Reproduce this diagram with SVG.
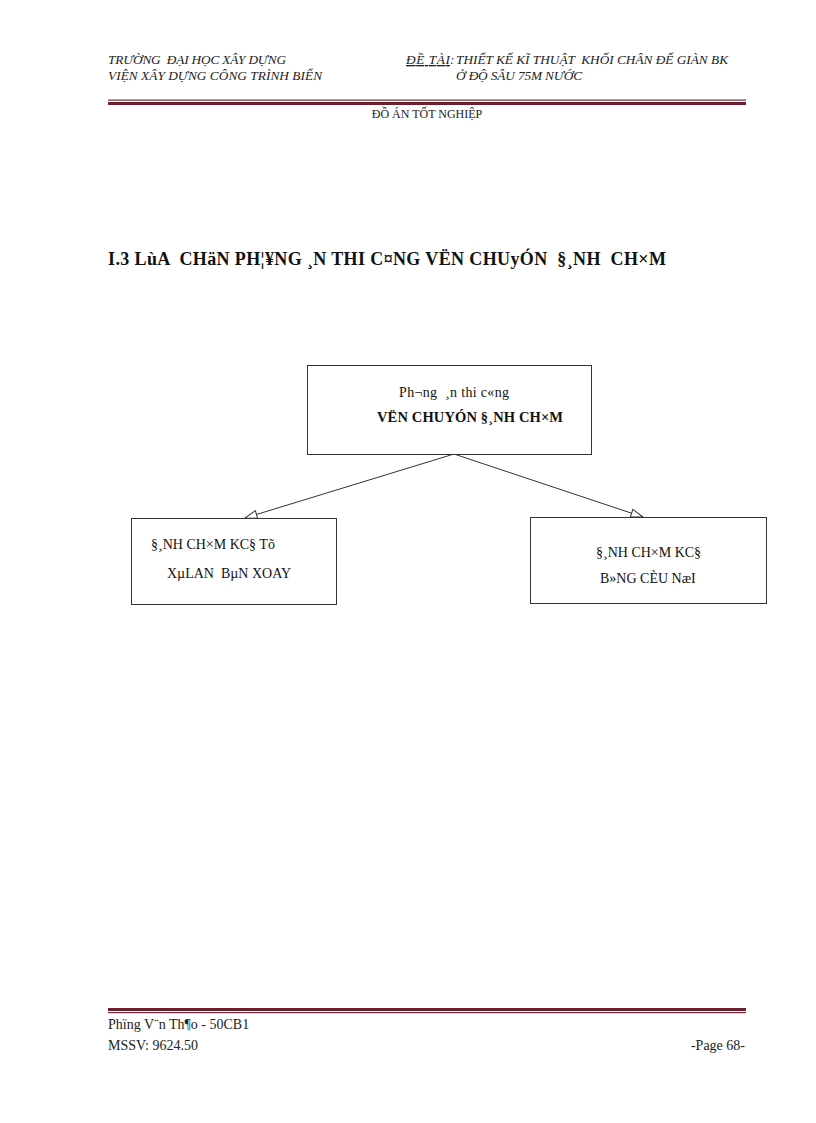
<svg xmlns="http://www.w3.org/2000/svg" width="816" height="1123" viewBox="0 0 816 1123">
<defs>
<style>
text{white-space:pre}
.hd{font-family:"Liberation Serif",serif;font-style:italic;font-size:13.3px;fill:#222}
.sm{font-family:"Liberation Serif",serif;font-size:12px;fill:#222}
.tt{font-family:"Liberation Serif",serif;font-weight:bold;font-size:18px;fill:#111}
.bx{fill:#fff;stroke:#333;stroke-width:1}
.nt{font-family:"Liberation Serif",serif;font-size:14px;fill:#111}
.nb{font-family:"Liberation Serif",serif;font-weight:bold;font-size:14.5px;fill:#111}
.ft{font-family:"Liberation Serif",serif;font-size:14px;fill:#222}
.cn{stroke:#333;stroke-width:1;fill:none;marker-end:url(#oa)}
</style>
<marker id="oa" viewBox="0 0 14 10" refX="13" refY="5" markerWidth="14" markerHeight="10" markerUnits="userSpaceOnUse" orient="auto">
<path d="M1,1 L13,5 L1,9 Z" fill="#fff" stroke="#333" stroke-width="1"/>
</marker>
</defs>
<rect width="816" height="1123" fill="#fff"/>
<g id="header">
<text class="hd" x="108" y="64" textLength="178">TRƯỜNG  ĐẠI HỌC XÂY DỰNG</text>
<text class="hd" x="108" y="80" textLength="214">VIỆN XÂY DỰNG CÔNG TRÌNH BIỂN</text>
<text class="hd" x="406" y="64" textLength="44" text-decoration="underline">ĐỀ TÀI</text>
<text class="hd" x="450" y="64">:</text>
<text class="hd" x="456" y="64" textLength="272">THIẾT KẾ KĨ THUẬT  KHỐI CHÂN ĐẾ GIÀN BK</text>
<text class="hd" x="456" y="80" textLength="126">Ở ĐỘ SÂU 75M NƯỚC</text>
<rect x="108" y="99.5" width="638" height="1.2" fill="#7a2a3a"/>
<rect x="108" y="102" width="638" height="3" fill="#6e1f2e"/>
<text class="sm" x="427" y="118" text-anchor="middle">ĐỒ ÁN TỐT NGHIỆP</text>
</g>
<text class="tt" x="108" y="265" textLength="558">I.3 LùA  CHäN PH¦¥NG ¸N THI C¤NG VËN CHUyÓN  §¸NH  CH×M</text>
<g id="connectors">
<line class="cn" x1="454" y1="454" x2="245" y2="518"/>
<line class="cn" x1="454" y1="454" x2="643" y2="517"/>
</g>
<g id="n-top">
<rect class="bx" x="307.5" y="365.5" width="284" height="89"/>
<text class="nt" x="399" y="397" textLength="110">Ph¬ng  ¸n thi c«ng</text>
<text class="nb" x="377" y="422" textLength="186">VËN CHUYÓN §¸NH CH×M</text>
</g>
<g id="n-left">
<rect class="bx" x="131.5" y="518.5" width="205" height="86"/>
<text class="nt" x="151" y="549">§¸NH CH×M KC§ Tõ</text>
<text class="nt" x="167" y="578">XµLAN  BµN XOAY</text>
</g>
<g id="n-right">
<rect class="bx" x="530.5" y="517.5" width="236" height="86"/>
<text class="nt" x="596" y="557">§¸NH CH×M KC§</text>
<text class="nt" x="600" y="583">B»NG CÈU NæI</text>
</g>
<g id="footer">
<rect x="108" y="1008" width="638" height="3" fill="#6e1f2e"/>
<rect x="108" y="1012" width="638" height="1.2" fill="#7a2a3a"/>
<text class="ft" x="108" y="1029">Phïng V¨n Th¶o - 50CB1</text>
<text class="ft" x="108" y="1050">MSSV: 9624.50</text>
<text class="ft" x="745" y="1050" text-anchor="end">-Page 68-</text>
</g>
</svg>
